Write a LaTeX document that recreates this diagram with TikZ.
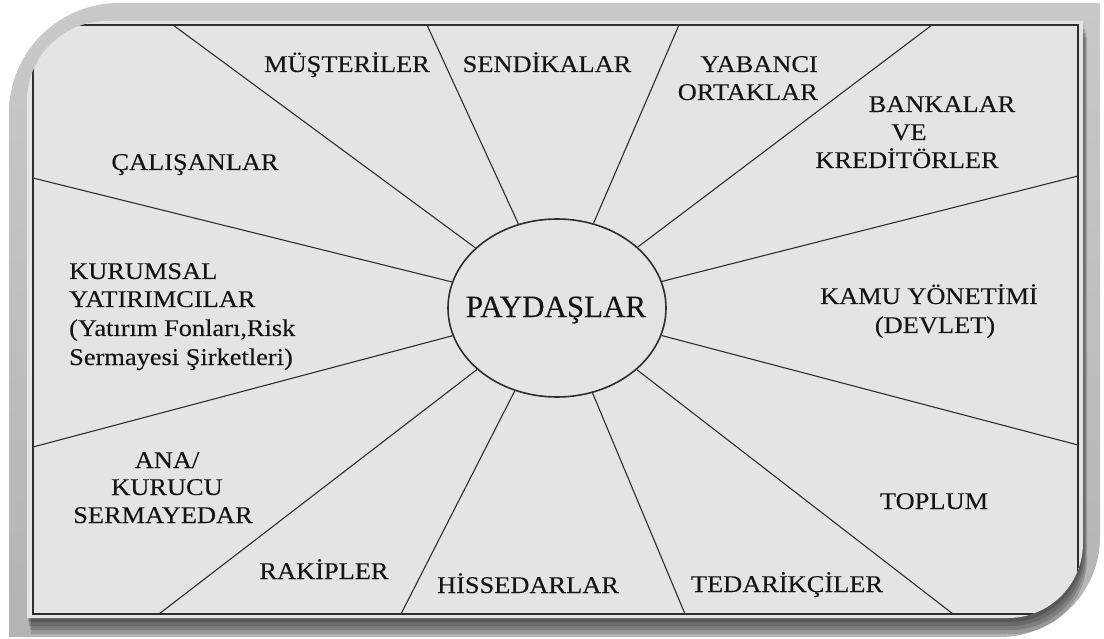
\documentclass[tikz,border=0pt]{standalone}
\usepackage{fontspec}
\setmainfont{Liberation Serif}[FakeStretch=1.1,FakeBold=0.15]
\newfontfamily\bigfont{Liberation Serif}[FakeBold=0.15]
\usetikzlibrary{shapes.geometric}
\definecolor{bandtop}{HTML}{C9C9C9}
\definecolor{bandbot}{HTML}{B4B4B4}
\definecolor{paper}{HTML}{E4E4E4}
\definecolor{ln}{HTML}{2E2E2E}
\definecolor{txt}{HTML}{141414}
\newcommand\innerp[1]{\path[#1] (27,618) -- (27,300) [rounded corners=80pt] -- (27,21) -- (600,21) [sharp corners] -- (1083,21) -- (1083,300) [rounded corners=75pt] -- (1083,618) -- (600,618) [sharp corners] -- cycle;}
\begin{document}
\begin{tikzpicture}[x=1pt,y=-1pt,
  lbl/.style={inner sep=0pt, text=txt, font=\fontsize{24}{29}\selectfont},
  spoke/.style={draw=ln, line width=1.1pt}]
\useasboundingbox (0,0) rectangle (1104,639);
% outer grey frame
\path[top color=bandtop, bottom color=bandbot] (9,637) -- (9,300) [rounded corners=110pt] -- (9,3) -- (600,3) [sharp corners] -- (1100,3) -- (1100,300) [rounded corners=100pt] -- (1100,637) -- (600,637) [sharp corners] -- cycle;
% drop shadow
\innerp{fill=black, fill opacity=0.16, shift={(4,16)}}
\innerp{fill=black, fill opacity=0.16, shift={(3,12)}}
\innerp{fill=black, fill opacity=0.16, shift={(2,8)}}
\innerp{fill=black, fill opacity=0.16, shift={(1,4)}}
% paper
\innerp{fill=paper}
\begin{scope}
  \clip (27,618) -- (27,300) [rounded corners=80pt] -- (27,21) -- (600,21) [sharp corners] -- (1083,21) -- (1083,300) [rounded corners=75pt] -- (1083,618) -- (600,618) [sharp corners] -- cycle;
  \draw[ln, line width=1.1pt] (33,25) rectangle (1078,614);
\end{scope}
% centre
\node[ellipse, draw=ln, line width=1.6pt, minimum width=218pt, minimum height=178pt, inner sep=0pt] (c) at (557,308) {};
\node[lbl, font=\bigfont\fontsize{31}{36}\selectfont, anchor=base] (pl) at (556,317) {PAYDAŞLAR};
% spoke ends
\coordinate (t1) at (173,25);
\coordinate (t2) at (427,25);
\coordinate (t3) at (679,25);
\coordinate (t4) at (932,25);
\coordinate (r1) at (1078,176);
\coordinate (r2) at (1078,445);
\coordinate (b1) at (953,614);
\coordinate (b2) at (685,614);
\coordinate (b3) at (401,614);
\coordinate (b4) at (159,614);
\coordinate (l1) at (33,447);
\coordinate (l2) at (33,178);
\foreach \p in {t1,t2,t3,t4,r1,r2,b1,b2,b3,b4,l1,l2} \draw[spoke] (c) -- (\p);
% labels
\node[lbl, anchor=base] (must) at (347,72) {MÜŞTERİLER};
\node[lbl, anchor=base] (send) at (547,72) {SENDİKALAR};
\node[lbl, anchor=base east] (yab1) at (818,72) {YABANCI};
\node[lbl, anchor=base east] (yab2) at (818,100) {ORTAKLAR};
\node[lbl, anchor=base] (ban1) at (942,112) {BANKALAR};
\node[lbl, anchor=base] (ban2) at (909,140) {VE};
\node[lbl, anchor=base] (ban3) at (907,168) {KREDİTÖRLER};
\node[lbl, anchor=base] (cal) at (195,170) {ÇALIŞANLAR};
\node[lbl, anchor=base west] (kur1) at (69,279) {KURUMSAL};
\node[lbl, anchor=base west] (kur2) at (69,307) {YATIRIMCILAR};
\node[lbl, anchor=base west] (kur3) at (69,336) {(Yatırım Fonları,Risk};
\node[lbl, anchor=base west] (kur4) at (69,365) {Sermayesi Şirketleri)};
\node[lbl, anchor=base] (kam1) at (929,304) {KAMU YÖNETİMİ};
\node[lbl, anchor=base] (kam2) at (935,333) {(DEVLET)};
\node[lbl, anchor=base] (ana1) at (167,468) {ANA/};
\node[lbl, anchor=base] (ana2) at (167,495) {KURUCU};
\node[lbl, anchor=base] (ana3) at (163,523) {SERMAYEDAR};
\node[lbl, anchor=base] (top) at (934,509) {TOPLUM};
\node[lbl, anchor=base] (rak) at (324,579) {RAKİPLER};
\node[lbl, anchor=base] (his) at (528,593) {HİSSEDARLAR};
\node[lbl, anchor=base] (ted) at (787,592) {TEDARİKÇİLER};
\end{tikzpicture}
\end{document}
